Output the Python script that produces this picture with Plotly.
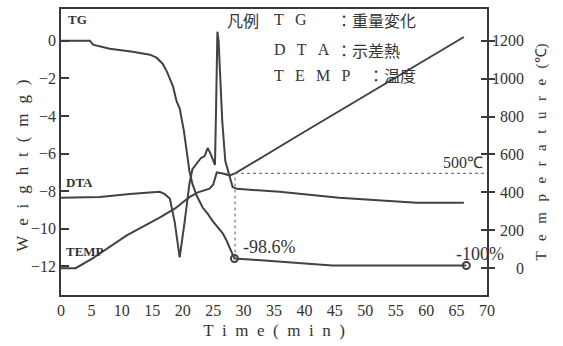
import plotly.graph_objects as go

# ---- data ----
time_tg = [0, 4.75, 5.25, 8.0, 11.8, 14.6, 15.7, 16.7, 17.4, 18.4, 19.0, 19.5, 20.2, 20.7,
           21.1, 21.6, 22.3, 23.3, 24.1, 24.9, 25.7, 26.6, 27.2, 27.7, 28.2, 28.5, 31.0, 44.6, 66.6]
tg_mg = [0, 0, -0.21, -0.42, -0.58, -0.74, -0.9, -1.22, -1.64, -2.43, -3.23, -3.6, -4.81, -5.87,
         -6.93, -7.62, -8.25, -8.89, -9.2, -9.58, -9.89, -10.26, -10.63, -11.0, -11.32, -11.59,
         -11.64, -11.96, -11.96]

time_dta = [0, 6.4, 11.3, 15.6, 16.2, 17.0, 17.9, 18.7, 19.5, 20.3, 21.1, 21.6, 22.3, 23.0,
            23.6, 24.1, 24.6, 25.1, 25.3, 25.5, 25.7, 25.9, 26.2, 26.5, 27.0, 27.6, 28.2, 28.9,
            35.9, 45.7, 58.4, 66.2]
dta = [-8.36, -8.31, -8.15, -8.04, -8.04, -8.15, -8.41, -9.68, -11.53, -9.68, -7.62, -6.83,
       -6.51, -6.24, -6.14, -5.71, -6.03, -6.51, -6.61, -3.23, 0.48, -0.05, -2.17, -4.29, -6.40,
       -7.09, -7.78, -7.88, -8.04, -8.36, -8.62, -8.62]

time_temp = [0, 2.4, 5.2, 10.8, 16.2, 18.7, 21.1, 22.5, 24.4, 25.0, 25.6, 26.6, 27.7, 28.6,
             40.0, 52.8, 66.2]
temp_c = [0, 0, 52, 173, 267, 314, 375, 400, 420, 440, 505, 500, 490, 500, 720, 965, 1220]

mark_time = [28.5, 66.6]
mark_tg = [-11.59, -11.96]
mark_text = ["-98.6%", "-100%"]

ref_time = 28.6
ref_temp = 500

x_ticks = list(range(0, 75, 5))
w_ticks = [0, -2, -4, -6, -8, -10, -12]
t_ticks = [0, 200, 400, 600, 800, 1000, 1200]

# ---- styling ----
LINE = "#424242"
AX = "#3a3a3a"
TXT = "#333"
SERIF = "Liberation Serif"
CJK = "Noto Sans CJK JP"
GAP = "\u2002\u2009"
GAP_X = "\u2002"
GAP_W = "\u2002\u200a"


def spaced(s, gap=GAP):
    return gap.join(s)


y1_range = [-13.53, 1.69]
y2_range = [-141.5, 1367.7]

fig = go.Figure()

fig.add_trace(go.Scatter(x=time_tg, y=tg_mg, mode="lines",
                         line=dict(color=LINE, width=2), hoverinfo="skip"))
fig.add_trace(go.Scatter(x=time_dta, y=dta, mode="lines",
                         line=dict(color=LINE, width=2), hoverinfo="skip"))
fig.add_trace(go.Scatter(x=time_temp, y=temp_c, mode="lines", yaxis="y2",
                         line=dict(color=LINE, width=2), hoverinfo="skip"))
# invisible copy to carry the inner tick marks of the right axis
fig.add_trace(go.Scatter(x=time_temp, y=temp_c, mode="lines", yaxis="y3",
                         line=dict(color="rgba(0,0,0,0)", width=0), hoverinfo="skip"))

# dotted reference lines at 500 C
ref_y1 = y1_range[0] + (ref_temp - y2_range[0]) / (y2_range[1] - y2_range[0]) * (y1_range[1] - y1_range[0])
fig.add_trace(go.Scatter(x=[ref_time, 70], y=[ref_temp, ref_temp], mode="lines", yaxis="y2",
                         line=dict(color="#777", width=1.2, dash="dot"), hoverinfo="skip"))
fig.add_trace(go.Scatter(x=[ref_time, ref_time], y=[mark_tg[0], ref_y1], mode="lines",
                         line=dict(color="#777", width=1.2, dash="dot"), hoverinfo="skip"))

fig.add_trace(go.Scatter(x=mark_time, y=mark_tg, mode="markers",
                         marker=dict(symbol="circle-open", size=7, color=LINE,
                                     line=dict(width=2, color=LINE)), hoverinfo="skip"))


def pa(x, y, text, size, family=SERIF, anchor="left", angle=0):
    return dict(xref="paper", yref="paper", x=x, y=y, text=text, xanchor=anchor,
                yanchor="middle", showarrow=False, textangle=angle,
                font=dict(family=family, size=size, color=TXT))


annos = [
    dict(x=mark_time[0] + 1.0, y=mark_tg[0], text=mark_text[0], xanchor="left", yanchor="bottom",
         showarrow=False, font=dict(family=SERIF, size=18, color=TXT)),
    dict(x=mark_time[1] + 2.3, y=mark_tg[1], text=mark_text[1], xanchor="center", yanchor="bottom",
         showarrow=False, font=dict(family=SERIF, size=18, color=TXT)),
    dict(x=69.7, y=ref_temp, yref="y2", text="500℃", xanchor="right", yanchor="bottom",
         showarrow=False, font=dict(family=SERIF, size=16, color=TXT)),
    pa(0.012, 0.962, "<b>TG</b>", 13),
    pa(0.008, 0.392, "<b>DTA</b>", 13),
    pa(0.008, 0.153, "<b>TEMP</b>", 13),
    # legend block
    pa(0.385, 0.962, "凡例", 16, CJK),
    pa(0.495, 0.962, spaced("TG"), 16),
    pa(0.495, 0.858, spaced("DTA"), 16),
    pa(0.495, 0.768, spaced("TEMP"), 16),
    pa(0.64, 0.962, "：重量変化", 16, CJK),
    pa(0.64, 0.858, "：示差熱", 16, CJK),
    pa(0.715, 0.768, "：温度", 16, CJK),
    # left axis title
    pa(-0.092, 0.451, spaced("Weight", GAP_W) + GAP_W + spaced("(mg)", GAP_W), 17,
       anchor="center", angle=-90),
]

fig.update_layout(
    width=563, height=346,
    margin=dict(l=61, r=76, t=7, b=51),
    paper_bgcolor="white", plot_bgcolor="white",
    showlegend=False,
    annotations=annos,
    xaxis=dict(range=[0, 70], tickmode="array", tickvals=x_ticks, ticks="",
               showgrid=False, zeroline=False, showline=True, linecolor=AX, linewidth=1.6,
               mirror=True,
               tickfont=dict(family=SERIF, size=16, color=TXT),
               title=dict(text=spaced("Time", GAP_X) + GAP_X + spaced("(min)", GAP_X), standoff=6,
                          font=dict(family=SERIF, size=17, color=TXT))),
    yaxis=dict(range=y1_range, tickmode="array", tickvals=w_ticks, ticks="inside", ticklen=8,
               tickwidth=1.5, tickcolor=AX,
               showgrid=False, zeroline=False, showline=True, linecolor=AX, linewidth=1.6,
               tickfont=dict(family=SERIF, size=16, color=TXT)),
    yaxis2=dict(range=y2_range, overlaying="y", side="right", anchor="x",
                tickmode="array", tickvals=t_ticks,
                ticktext=[("\u2007" * (4 - len(str(v)))) + str(v) for v in t_ticks],
                ticks="outside", ticklen=6, tickwidth=1.5, tickcolor=AX,
                ticklabelstandoff=-6,
                showgrid=False, zeroline=False, showline=True, linecolor=AX, linewidth=1.6,
                tickfont=dict(family=SERIF, size=16, color=TXT),
                title=dict(text=spaced("Temperature") + GAP + "(℃)", standoff=12,
                           font=dict(family=SERIF, size=15, color=TXT))),
    yaxis3=dict(range=y2_range, overlaying="y", side="right", anchor="x",
                tickmode="array", tickvals=t_ticks, ticks="inside", ticklen=6, tickwidth=1.5,
                tickcolor=AX, showticklabels=False, showgrid=False, zeroline=False,
                showline=False),
)

fig.write_html("out.html")
